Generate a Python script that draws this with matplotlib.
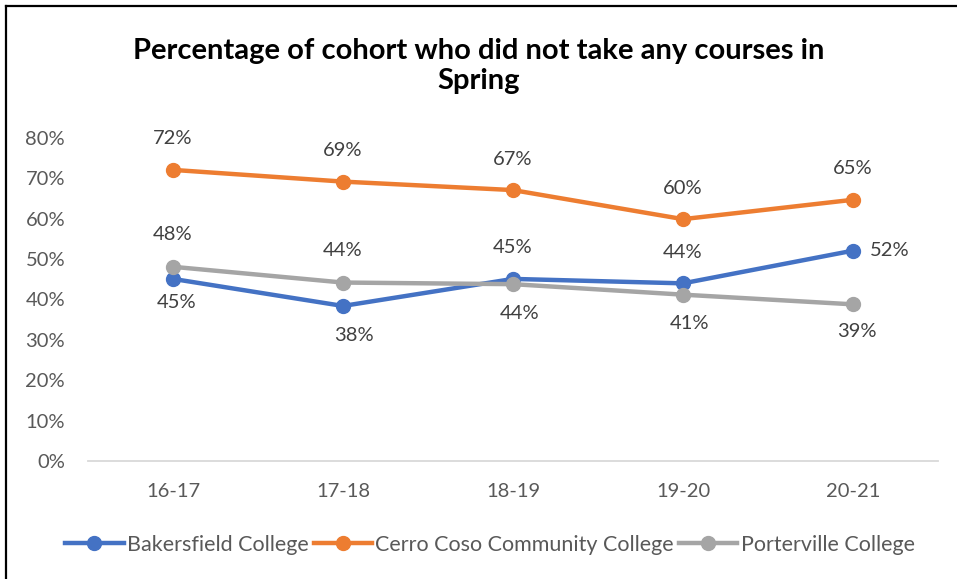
import matplotlib
matplotlib.use("Agg")
import matplotlib.pyplot as plt
from matplotlib.lines import Line2D

plt.rcParams['font.family'] = ['Lato', 'DejaVu Sans']

categories = ["16-17", "17-18", "18-19", "19-20", "20-21"]
bakersfield = [0.451, 0.384, 0.451, 0.440, 0.521]
cerro_coso = [0.721, 0.692, 0.671, 0.599, 0.647]
porterville = [0.481, 0.442, 0.438, 0.412, 0.388]
series_names = ["Bakersfield College", "Cerro Coso Community College", "Porterville College"]
y_ticks = [0.0, 0.1, 0.2, 0.3, 0.4, 0.5, 0.6, 0.7, 0.8]
title = "Percentage of cohort who did not take any courses in\nSpring"

colors = ["#4472C4", "#ED7D31", "#A5A5A5"]
# label placement per point: (dx, dy, ha) in pixels
place_bak = [(4, -24, 'center'), (11, -30, 'center'), (0, 31, 'center'), (0, 31, 'center'), (17, 0, 'left')]
place_cer = [(0, 31, 'center')] * 5
place_por = [(0, 32, 'center'), (0, 32, 'center'), (7, -29, 'center'), (7, -29, 'center'), (4, -27, 'center')]

W, H = 957, 579
fig = plt.figure(figsize=(W / 100, H / 100), dpi=100)
ax = fig.add_axes([88 / W, 1 - 461 / H, (938 - 88) / W, (461 - 138) / H])

x = list(range(len(categories)))
text_color = "#595959"
fs = 14.5
for vals, col, name, place in zip([bakersfield, cerro_coso, porterville], colors, series_names,
                                  [place_bak, place_cer, place_por]):
    ax.plot(x, vals, color=col, lw=3.2, marker='o', markersize=10, label=name,
            solid_capstyle='round', zorder=3)
    for xi, v, (dx, dy, ha) in zip(x, vals, place):
        ax.annotate(f"{v:.0%}", (xi, v), xytext=(dx, dy), textcoords='offset pixels',
                    ha=ha, va='center', fontsize=fs, color="#404040")

ax.set_xlim(-0.5, len(categories) - 0.5)
ax.set_ylim(0, 0.8)
ax.set_xticks(x)
ax.set_xticklabels(categories)
ax.set_yticks(y_ticks)
ax.set_yticklabels([f"{t:.0%}" for t in y_ticks])
ax.tick_params(axis='both', length=0, labelsize=fs, labelcolor=text_color)
ax.tick_params(axis='x', pad=16)
ax.tick_params(axis='y', pad=16.5)
for s in ['top', 'right', 'left']:
    ax.spines[s].set_visible(False)
ax.spines['bottom'].set_color("#D9D9D9")
ax.spines['bottom'].set_linewidth(1.3)

fig.text(0.5, 1 - 66 / H, title, ha='center', va='center', fontsize=21,
         fontweight='bold', color='black', linespacing=1.21)

handles = [Line2D([0], [0], color=c, lw=3.2, marker='o', markersize=10) for c in colors]
fig.legend(handles, series_names, loc='center', bbox_to_anchor=(490 / W, 1 - 545 / H),
           ncol=3, frameon=False, fontsize=15.5, labelcolor=text_color,
           handlelength=2.7, handletextpad=0.15, columnspacing=0.25)

# outer border (top and left visible)
fig.add_artist(Line2D([6 / W, 1], [1 - 6 / H, 1 - 6 / H], color='black', lw=1.6,
                      transform=fig.transFigure))
fig.add_artist(Line2D([6 / W, 6 / W], [0, 1 - 6 / H], color='black', lw=1.6,
                      transform=fig.transFigure))

fig.savefig("out.png", dpi=100)
